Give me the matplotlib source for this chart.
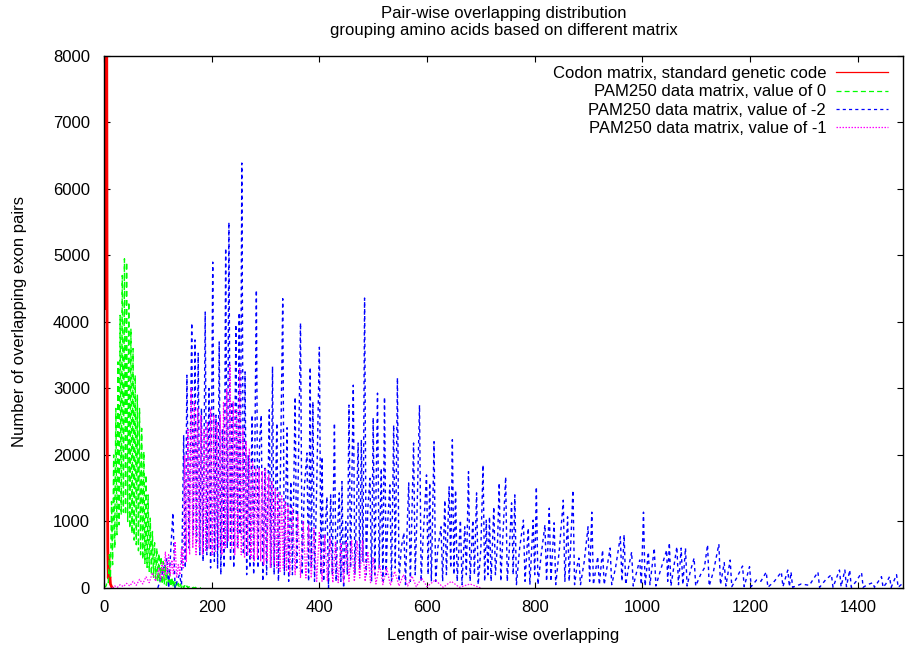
import matplotlib
matplotlib.use("Agg")
import matplotlib.pyplot as plt

plt.rcParams['font.family'] = ['Liberation Sans', 'DejaVu Sans']

# Codon matrix, standard genetic code (length 0..16)
red_x = list(range(17))
red_y = [9500, 14000, 6000, 16000, 4200, 9000, 2500, 600, 150, 470, 120, 170, 60, 40, 20, 10, 0]

# PAM250, value of 0 (length step 2, alternating low / high)
green_x = list(range(0, 181, 2))
green_y = [0, 20, 30, 100, 80, 500, 150, 1300, 350, 2000, 600, 2700, 800, 3400, 950, 4100, 1100,
           4700, 1140, 4950, 1100, 4900, 1000, 4300, 900, 3900, 820, 3600, 720, 3200, 650, 2900,
           560, 2700, 500, 2400, 430, 2050, 370, 1700, 310, 1400, 250, 1050, 200, 850, 160, 680,
           130, 600, 100, 520, 80, 470, 60, 400, 50, 330, 40, 290, 30, 220, 20, 160, 15, 120,
           10, 90, 10, 70, 5, 60, 0, 45, 0, 35, 0, 30, 0, 20, 0, 15, 0, 10, 0, 10, 0, 5, 0, 5, 0]

# PAM250, value of -2
blue_x = [100, 117, 120, 128, 132, 140, 144, 148, 151, 154, 158, 163, 166, 169, 172, 175, 178, 181, 184,
          188, 191, 195, 198, 202, 205, 208, 211, 214, 217, 220, 223, 226, 229, 232, 235, 238, 241,
          245, 248, 251, 253, 256, 259, 262, 265, 268, 271, 275, 278, 283, 286, 289, 292, 295, 299,
          302, 307, 310, 313, 316, 321, 324, 328, 332, 335, 340, 343, 347, 350, 355, 358, 361, 365,
          368, 372, 377, 380, 383, 385, 388, 391, 395, 400, 403, 405, 408, 411, 414, 417, 421, 424,
          428, 431, 434, 437, 440, 442, 445, 449, 452, 455, 458, 463, 466, 469, 472, 475, 478, 481,
          484, 487, 490, 494, 497, 500, 503, 505, 508, 511, 515, 518, 521, 524, 527, 531, 534, 538,
          541, 545, 548, 552, 557, 560, 563, 566, 569, 575, 578, 581, 586, 589, 593, 599, 602, 605,
          608, 613, 616, 620, 626, 629, 633, 636, 641, 644, 647, 650, 653, 656, 662, 665, 670, 673,
          677, 680, 685, 688, 692, 695, 700, 704, 707, 710, 713, 716, 719, 724, 727, 731, 734, 737,
          741, 746, 749, 753, 757, 760, 763, 766, 772, 779, 782, 788, 791, 797, 800, 803, 806, 812,
          819, 822, 827, 830, 836, 839, 846, 853, 856, 861, 864, 871, 874, 878, 882, 885, 892, 899,
          902, 906, 909, 917, 920, 926, 929, 934, 940, 943, 950, 959, 962, 966, 969, 974, 980, 983,
          988, 995, 998, 1002, 1005, 1011, 1014, 1022, 1025, 1033, 1045, 1047, 1050, 1053, 1058,
          1064, 1067, 1072, 1075, 1080, 1083, 1089, 1096, 1099, 1108, 1115, 1121, 1124, 1132, 1142,
          1145, 1152, 1155, 1163, 1166, 1175, 1186, 1189, 1199, 1202, 1212, 1220, 1230, 1233, 1245,
          1258, 1261, 1270, 1273, 1276, 1279, 1295, 1310, 1326, 1329, 1340, 1351, 1354, 1366, 1369,
          1376, 1379, 1385, 1388, 1397, 1407, 1410, 1418, 1428, 1431, 1444, 1447, 1452, 1459, 1462,
          1472, 1475, 1482]
blue_y = [0, 450, 0, 1130, 0, 200, 50, 2300, 300, 3200, 600, 3985, 800, 3730, 700, 3530, 500, 2700, 400,
          4150, 500, 3000, 300, 4900, 400, 2600, 300, 3700, 200, 2400, 300, 5110, 600, 5500, 400, 2800, 300,
          3960, 600, 4140, 800, 6390, 500, 3250, 200, 2000, 300, 2600, 200, 4480, 300, 2200, 2600, 100, 1800,
          200, 2680, 300, 3330, 200, 2480, 100, 1900, 4350, 200, 2410, 100, 1600, 200, 2870, 300, 1800, 3985,
          200, 1500, 2030, 100, 3320, 300, 2800, 100, 1500, 3620, 200, 1970, 100, 900, 1370, 0, 1400, 200,
          2480, 100, 900, 1430, 100, 1600, 0, 1000, 200, 2750, 300, 3050, 200, 1200, 2180, 300, 2230, 400,
          4360, 200, 1200, 1650, 100, 2560, 200, 1300, 2930, 300, 1800, 100, 2870, 200, 1000, 1550, 100, 2450,
          300, 3160, 100, 600, 830, 50, 900, 1580, 100, 2180, 200, 1000, 2750, 100, 800, 1700, 200, 1580,
          100, 2200, 100, 600, 920, 100, 1320, 200, 1520, 300, 2230, 200, 1470, 100, 1020, 50, 920, 200,
          1750, 100, 1020, 200, 1430, 50, 600, 1850, 100, 1020, 200, 1070, 100, 1220, 200, 700, 1580, 100,
          800, 1670, 100, 600, 1280, 200, 1400, 50, 600, 1020, 100, 900, 50, 1020, 200, 1520, 50, 500,
          950, 100, 1200, 100, 980, 50, 600, 1320, 100, 1070, 100, 1470, 50, 300, 450, 50, 400, 920,
          100, 1140, 50, 470, 50, 570, 50, 300, 600, 50, 300, 770, 100, 800, 50, 300, 540, 30,
          200, 420, 50, 1140, 30, 540, 50, 600, 30, 250, 570, 100, 680, 30, 300,
          620, 50, 600, 50, 600, 30, 250, 450, 30, 200, 300, 650, 30, 250, 660,
          50, 380, 30, 420, 20, 150, 330, 20, 320, 20, 120, 100, 240, 10, 100,
          240, 20, 270, 20, 240, 10, 60, 40, 240, 10, 120, 200, 10, 270, 20,
          270, 20, 270, 10, 100, 230, 10, 50, 80, 10, 170, 10, 60, 170, 10,
          200, 10, 60]

# PAM250, value of -1
magenta_x = [15, 20, 25, 30, 36, 42, 48, 54, 60, 66, 72, 78, 84, 90, 96, 102, 105, 108, 111, 114, 117,
             120, 123, 126, 129, 132, 135, 138, 141, 144, 147, 150, 153, 156, 159, 162, 165, 168, 171,
             174, 177, 180, 183, 186, 189, 192, 195, 198, 201, 204, 207, 210, 213, 216, 219, 222, 225,
             228, 231, 234, 237, 240, 243, 246, 249, 252, 255, 258, 261, 264, 267, 270, 273, 276, 279,
             282, 285, 288, 291, 294, 297, 300, 303, 306, 309, 312, 315, 318, 321, 324, 327, 330, 333,
             336, 339, 342, 345, 350, 355, 360, 365, 370, 375, 380, 385, 390, 395, 400, 405, 410, 415,
             420, 425, 430, 435, 440, 445, 450, 455, 460, 465, 470, 475, 480, 485, 490, 495, 500, 505,
             512, 518, 525, 532, 540, 548, 556, 564, 572, 580, 590, 600, 615, 630, 645, 660, 680, 700]
magenta_y = [0, 30, 10, 50, 20, 70, 30, 100, 40, 130, 60, 170, 80, 230, 100, 300, 120, 380, 150, 540, 200,
             500, 180, 420, 200, 700, 150, 350, 200, 600, 300, 2000, 400, 2400, 500, 3000, 600, 2800, 500,
             2700, 600, 2600, 500, 2400, 550, 2500, 600, 2700, 500, 2600, 550, 2500, 600, 2600, 500, 2800, 600,
             3000, 700, 3350, 600, 2800, 500, 2700, 600, 3300, 500, 2400, 450, 2200, 500, 2100, 450, 1900, 400,
             1800, 450, 1800, 400, 1750, 350, 1800, 400, 1700, 300, 1600, 350, 1500, 300, 1450, 250, 1400, 300,
             1300, 250, 1250, 200, 1200, 200, 1100, 150, 1000, 150, 950, 150, 900, 100, 850, 100, 800, 100,
             750, 80, 700, 80, 680, 80, 700, 100, 720, 100, 700, 150, 720, 100, 550, 80, 450, 60,
             350, 50, 300, 40, 250, 30, 200, 30, 180, 20, 150, 20, 120, 10, 100, 10, 60, 0]

x_ticks = [0, 200, 400, 600, 800, 1000, 1200, 1400]
y_ticks = [0, 1000, 2000, 3000, 4000, 5000, 6000, 7000, 8000]

fig = plt.figure(figsize=(9.05, 6.5), dpi=100)
ax = fig.add_axes([0.1149, 0.0954, 0.8829, 0.8185])

# gnuplot-like line types: solid, dashed, short dashed, dotted
ax.plot(red_x, red_y, color='#ff0000', lw=2.0, label='Codon matrix, standard genetic code')
ax.plot(green_x, green_y, color='#00ff00', lw=1.0, linestyle=(0, (4, 2.5)), label='PAM250 data matrix, value of 0')
ax.plot(blue_x, blue_y, color='#0000ff', lw=1.0, linestyle=(0, (2.5, 2.5)), label='PAM250 data matrix, value of -2')
ax.plot(magenta_x, magenta_y, color='#ff00ff', lw=0.9, linestyle=(0, (1.2, 1.2)), label='PAM250 data matrix, value of -1')

ax.set_xlim(0, 1484)
ax.set_ylim(0, 8000)
ax.set_xticks(x_ticks)
ax.set_yticks(y_ticks)
ax.tick_params(direction='in', length=4.5, width=0.8, top=True, right=True, labelsize=12)
ax.tick_params(axis='y', pad=10)
ax.tick_params(axis='x', pad=8.5)
for s in ax.spines.values():
    s.set_linewidth(1.0)

ax.set_title('Pair-wise overlapping distribution\ngrouping amino acids based on different matrix',
             fontsize=12, pad=15, linespacing=1.15)
ax.set_xlabel('Length of pair-wise overlapping', fontsize=12, labelpad=9.5)
ax.set_ylabel('Number of overlapping exon pairs', fontsize=12, labelpad=19)

leg = ax.legend(loc='upper right', bbox_to_anchor=(0.981, 0.981), frameon=False, markerfirst=False,
                fontsize=12, handlelength=3.1, handletextpad=0.6, labelspacing=0.2,
                borderpad=0, borderaxespad=0)
for line in leg.get_lines():
    line.set_linewidth(0.9)

fig.savefig('out.png', dpi=100)
